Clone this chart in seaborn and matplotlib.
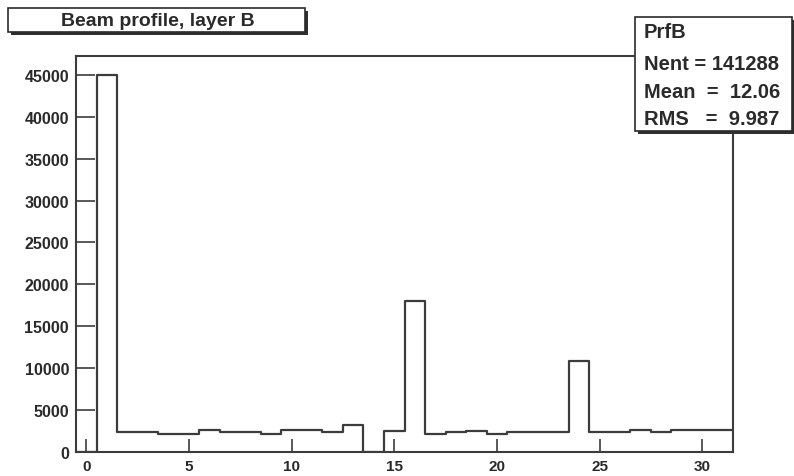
import numpy as np
import pandas as pd
import seaborn as sns
import matplotlib
matplotlib.use("Agg")
import matplotlib.pyplot as plt
from matplotlib.patches import Rectangle
from matplotlib.ticker import MultipleLocator

# Beam profile histogram, layer B: one count per strip (bin centres 0..31)
strips = list(range(32))
counts = [0, 45000, 2350, 2350, 2100, 2100, 2600, 2350, 2350, 2100,
          2600, 2600, 2350, 3200, 0, 2550, 18000, 2100, 2350, 2500,
          2100, 2350, 2350, 2350, 10800, 2350, 2350, 2650, 2350, 2600,
          2600, 2600]

title_text = "Beam profile, layer B"
stats_name = "PrfB"
stats_lines = ["Nent = 141288", "Mean  =  12.06", "RMS   =  9.987"]

x_ticks_major, x_ticks_minor = 5, 1
y_ticks_major, y_ticks_minor = 5000, 1000

sns.set_style("white")
plt.rcParams["font.family"] = ["Liberation Sans", "DejaVu Sans"]
plt.rcParams["font.weight"] = "bold"

W, H = 794, 477
fig = plt.figure(figsize=(W / 100, H / 100), dpi=100)
fig.patch.set_facecolor("white")

def fx(px):
    return px / W

def fy(py):
    return 1 - py / H

left, right, top, bottom = 76, 733, 57, 453
ax = fig.add_axes([fx(left), fy(bottom), fx(right) - fx(left), fy(top) - fy(bottom)])

df = pd.DataFrame({"strip": strips, "count": counts})
line_col = "#3c3c3c"
sns.histplot(data=df, x="strip", weights="count", discrete=True,
             element="step", fill=False, color=line_col, linewidth=1.6, ax=ax)

ax.set_xlim(-0.5, 31.5)
ax.set_ylim(0, max(counts) * 1.05)
ax.set_xlabel("")
ax.set_ylabel("")

ax.xaxis.set_major_locator(MultipleLocator(x_ticks_major))
ax.xaxis.set_minor_locator(MultipleLocator(x_ticks_minor))
ax.yaxis.set_major_locator(MultipleLocator(y_ticks_major))
ax.yaxis.set_minor_locator(MultipleLocator(y_ticks_minor))

for s in ax.spines.values():
    s.set_color(line_col)
    s.set_linewidth(1.5)

ax.tick_params(axis="x", which="major", direction="in", length=9.5, width=1.2,
               color=line_col, labelsize=11, pad=5, labelcolor="#2a2a2a")
ax.tick_params(axis="x", which="minor", direction="in", length=5, width=1.2,
               color=line_col)
ax.tick_params(axis="y", which="major", direction="in", length=14, width=1.2,
               color=line_col, labelsize=11.5, pad=5, labelcolor="#2a2a2a")
ax.tick_params(axis="y", which="minor", direction="in", length=7.5, width=1.2,
               color=line_col)
ax.tick_params(top=False, right=False, bottom=True, left=True)
for lab in ax.get_xticklabels() + ax.get_yticklabels():
    lab.set_fontweight("bold")

def shadow_box(x0, y0, x1, y1, off=3):
    # drop shadow first, then the white box with a dark border
    fig.add_artist(Rectangle((fx(x0 + off), fy(y1 + off)), fx(x1) - fx(x0), fy(y0) - fy(y1),
                             transform=fig.transFigure, facecolor="#303030",
                             edgecolor="none", zorder=5))
    fig.add_artist(Rectangle((fx(x0), fy(y1)), fx(x1) - fx(x0), fy(y0) - fy(y1),
                             transform=fig.transFigure, facecolor="white",
                             edgecolor="#2a2a2a", linewidth=1.2, zorder=6))

# title box
shadow_box(8, 9, 305, 33)
fig.text(fx(158), fy(21.5), title_text, ha="center", va="center", fontsize=14,
         fontweight="bold", color="#2a2a2a", zorder=7)

# statistics box
shadow_box(635, 18, 792, 132)
fig.text(fx(644), fy(33), stats_name, ha="left", va="center", fontsize=14.5,
         fontweight="bold", color="#2a2a2a", zorder=7)
for i, txt in enumerate(stats_lines):
    fig.text(fx(644), fy(64 + 28 * i), txt, ha="left", va="center", fontsize=14.5,
             fontweight="bold", color="#2a2a2a", zorder=7)

fig.savefig("out.png", dpi=100, facecolor="white")
